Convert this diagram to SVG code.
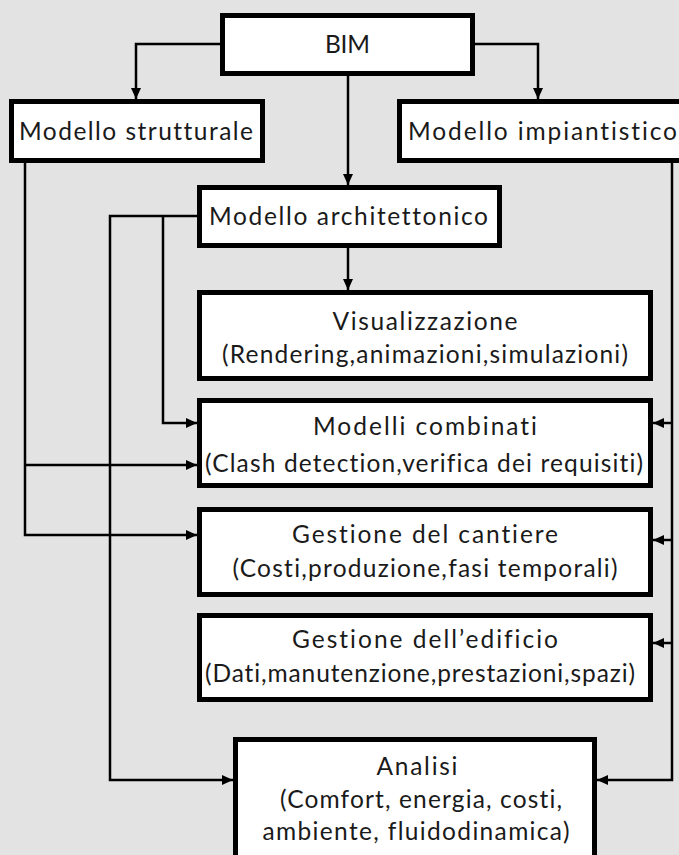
<svg xmlns="http://www.w3.org/2000/svg" width="679" height="855" viewBox="0 0 679 855">
  <defs>
    <marker id="arrow" markerUnits="userSpaceOnUse" markerWidth="12" markerHeight="12" viewBox="0 0 12 12" refX="11" refY="6" orient="auto">
      <path d="M0,1 L11,6 L0,11 Z" fill="#000"/>
    </marker>
    <style>
      .bg { fill: #e3e3e3; }
      .box { fill: #ffffff; stroke: #000; stroke-width: 5; }
      .link { fill: none; stroke: #000; stroke-width: 2.5; }
      .arr { marker-end: url(#arrow); }
      text { font-family: Lato, "Noto Sans", "Liberation Sans", sans-serif; font-size: 24.5px; fill: #1a1a1a; text-anchor: middle; font-variant-ligatures: none; font-feature-settings: "liga" 0, "clig" 0; }
    </style>
  </defs>

  <rect class="bg" x="0" y="0" width="679" height="855"/>

  <!-- connectors -->
  <g id="connectors">
    <path class="link arr" d="M222,44 H136 V99"/>
    <path class="link arr" d="M473,44 H538 V99"/>
    <path class="link arr" d="M348,74 V185"/>
    <path class="link arr" d="M348,246 V290"/>
    <!-- from Modello strutturale -->
    <path class="link arr" d="M25,161 V535 H197"/>
    <path class="link arr" d="M25,465 H197"/>
    <!-- from Modello architettonico -->
    <path class="link arr" d="M199,216 H110 V780 H233"/>
    <path class="link arr" d="M163,216 V423 H197"/>
    <!-- from Modello impiantistico -->
    <path class="link arr" d="M672,161 V780 H597"/>
    <path class="link arr" d="M672,423 H653"/>
    <path class="link arr" d="M672,540 H653"/>
    <path class="link arr" d="M672,643 H653"/>
  </g>

  <g id="bim">
    <rect class="box" x="222.5" y="15.5" width="250" height="58"/>
    <text x="347.5" y="53" textLength="45">BIM</text>
  </g>

  <g id="modello-strutturale">
    <rect class="box" x="11.5" y="101.5" width="251" height="59"/>
    <text x="136" y="140" textLength="234">Modello strutturale</text>
  </g>

  <g id="modello-impiantistico">
    <rect class="box" x="399.5" y="101.5" width="290" height="59"/>
    <text x="542.5" y="140" textLength="269">Modello impiantistico</text>
  </g>

  <g id="modello-architettonico">
    <rect class="box" x="199.5" y="187.5" width="300" height="58"/>
    <text x="348.5" y="225" textLength="279">Modello architettonico</text>
  </g>

  <g id="visualizzazione">
    <rect class="box" x="199.5" y="292.5" width="451" height="86"/>
    <text x="425" y="330" textLength="185">Visualizzazione</text>
    <text x="425" y="363" textLength="406">(Rendering,animazioni,simulazioni)</text>
  </g>

  <g id="modelli-combinati">
    <rect class="box" x="199.5" y="400.5" width="451" height="85"/>
    <text x="425" y="435" textLength="224">Modelli combinati</text>
    <text x="424" y="472" textLength="438">(Clash detection,verifica dei requisiti)</text>
  </g>

  <g id="gestione-cantiere">
    <rect class="box" x="199.5" y="509.5" width="451" height="85"/>
    <text x="425" y="543" textLength="266">Gestione del cantiere</text>
    <text x="425" y="577" textLength="385">(Costi,produzione,fasi temporali)</text>
  </g>

  <g id="gestione-edificio">
    <rect class="box" x="199.5" y="615.5" width="451" height="84"/>
    <text x="425" y="648" textLength="266">Gestione dell’edificio</text>
    <text x="420" y="682" textLength="430">(Dati,manutenzione,prestazioni,spazi)</text>
  </g>

  <g id="analisi">
    <rect class="box" x="235.5" y="739.5" width="359" height="130"/>
    <text x="417" y="775" textLength="81">Analisi</text>
    <text x="421" y="808" textLength="282">(Comfort, energia, costi,</text>
    <text x="416" y="840" textLength="307">ambiente, fluidodinamica)</text>
  </g>
</svg>
